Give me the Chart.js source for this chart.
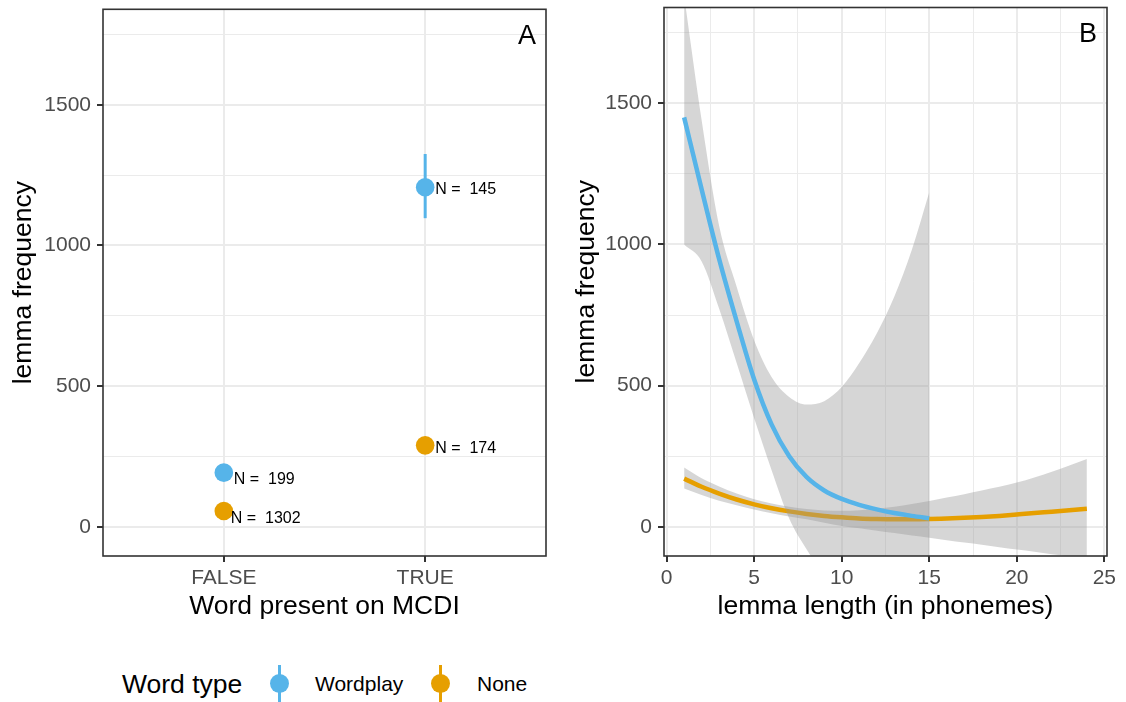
<!DOCTYPE html>
<html>
<head>
<meta charset="utf-8">
<title>Lemma frequency by MCDI presence and lemma length</title>
<script src="https://cdn.jsdelivr.net/npm/chart.js@4/dist/chart.umd.min.js"></script>
<style>
  html, body { margin: 0; padding: 0; background: #ffffff; }
  #fig { position: relative; width: 1126px; height: 702px; overflow: hidden;
         font-family: "Liberation Sans", Arial, Helvetica, sans-serif; }
  #fig canvas { position: absolute; top: 0; }
  #chartA { left: 0; }
  #chartB { left: 560px; }
  .lg-title { position: absolute; font-size: 26.5px; line-height: 30px; color: #000; white-space: nowrap; }
  .lg-label { position: absolute; font-size: 21px; line-height: 24px; color: #000; white-space: nowrap; }
  .lg-key { position: absolute; width: 20px; height: 37px; }
  .lg-key .bar { position: absolute; left: 8.5px; top: 0; width: 3px; height: 100%; }
  .lg-key .dot { position: absolute; left: 0.5px; top: 9px; width: 19px; height: 19px; border-radius: 50%; }
</style>
</head>
<body>
<div id="fig">
  <canvas id="chartA" width="560" height="640"></canvas>
  <canvas id="chartB" width="566" height="640"></canvas>
  <div class="lg-title" style="left:122px; top:669px;">Word type</div>
  <div class="lg-key" style="left:269px; top:665px;"><div class="bar" style="background:#56B4E9"></div><div class="dot" style="background:#56B4E9"></div></div>
  <div class="lg-label" style="left:315px; top:672px;">Wordplay</div>
  <div class="lg-key" style="left:430px; top:665px;"><div class="bar" style="background:#E69F00"></div><div class="dot" style="background:#E69F00"></div></div>
  <div class="lg-label" style="left:477px; top:672px;">None</div>
</div>
<script>
// ---- Panel A: mean lemma frequency by MCDI presence ----
const mcdiCategories = ['FALSE', 'TRUE'];
const wordplayMean = [193, 1207];
const wordplayLow  = [180, 1097];
const wordplayHigh = [207, 1325];
const wordplayCount = [199, 145];
const noneMean = [57, 290];
const noneLow  = [49, 271];
const noneHigh = [65, 309];
const noneCount = [1302, 174];

// ---- Panel B: smoothed lemma frequency by lemma length ----
const wordplayLength = [1, 2, 3, 4, 5, 6, 7, 8, 9, 10, 11, 12, 13, 14, 15];
const wordplayFit   = [1450, 1195, 948, 728, 522, 362, 250, 176, 129, 99, 78, 62, 49, 39, 31];
const wordplayUpper = [1880, 1440, 1065, 850, 660, 530, 460, 433, 445, 495, 580, 685, 815, 980, 1185];
const wordplayLower = [1000, 940, 772, 580, 385, 200, 30, -80, -170, -240, -290, -320, -340, -350, -355];

const noneLength = [1, 2, 3, 4, 5, 6, 7, 8, 9, 10, 11, 12, 13, 14, 15, 16, 17, 18, 19, 20, 21, 22, 23, 24];
const noneFit   = [171, 142, 118, 97, 80, 66, 55, 46, 39, 34, 30, 28, 27, 27, 28, 30, 32, 35, 39, 44, 49, 54, 59, 64];
const noneUpper = [210, 172, 143, 118, 98, 83, 71, 63, 58, 57, 59, 64, 71, 81, 92, 104, 116, 129, 142, 157, 175, 195, 217, 240];
const noneLower = [136, 113, 93, 77, 62, 48, 37, 27, 15, 3, -5, -14, -22, -30, -38, -47, -55, -63, -72, -80, -88, -97, -105, -113];

// ---- Axis ticks ----
const freqTicks = [0, 250, 500, 750, 1000, 1250, 1500, 1750];
const lengthTicks = [0, 2.5, 5, 7.5, 10, 12.5, 15, 17.5, 20, 22.5, 25];

const FONT = '"Liberation Sans", Arial, Helvetica, sans-serif';
const BLUE = '#56B4E9';
const ORANGE = '#E69F00';
const GRID = '#EBEBEB';
const INK = '#333333';
const RIBBON = 'rgba(153,153,153,0.4)';

Chart.defaults.font.family = FONT;

function gridStyle(isMajor) {
  return {
    color: GRID,
    lineWidth: c => (c.tick && isMajor(c.tick.value)) ? 2 : 1,
    drawTicks: true,
    tickLength: 6,
    tickWidth: 2,
    tickColor: c => (c.tick && isMajor(c.tick.value)) ? INK : 'rgba(0,0,0,0)'
  };
}

// Axes keep a fixed thickness and do not push the plot area for their end labels
function fixVertical(width) {
  return s => { s.width = width; s.paddingTop = 0; s.paddingBottom = 0; };
}
function fixHorizontal(height) {
  return s => { s.height = height; s.paddingLeft = 0; s.paddingRight = 0; };
}

function freqAxis(axisWidth, titleGap) {
  const major = v => v % 500 === 0;
  return {
    type: 'linear',
    min: -103,
    max: 1839,
    afterBuildTicks: s => { s.ticks = freqTicks.map(v => ({ value: v })); },
    afterFit: fixVertical(axisWidth),
    border: { display: false },
    grid: gridStyle(major),
    ticks: {
      autoSkip: false,
      padding: 6,
      color: '#4D4D4D',
      font: { size: 21 },
      callback: v => major(v) ? String(v) : ''
    },
    title: {
      display: true,
      text: 'lemma frequency',
      color: '#000000',
      font: { size: 26.5 },
      padding: { top: titleGap, bottom: 0 }
    }
  };
}

// Full panel frame plus the panel tag in the top-right corner
const panelFrame = {
  id: 'panelFrame',
  afterDraw(chart, args, opts) {
    const { ctx, chartArea: a } = chart;
    ctx.save();
    ctx.strokeStyle = INK;
    ctx.lineWidth = 1.6;
    ctx.strokeRect(a.left, a.top, a.right - a.left, a.bottom - a.top);
    ctx.fillStyle = '#000000';
    ctx.font = '27px ' + FONT;
    ctx.textAlign = 'center';
    ctx.textBaseline = 'middle';
    ctx.fillText(opts.tag, a.right - 19, a.top + 27);
    ctx.restore();
  }
};

// Vertical ranges behind the points of panel A
const rangeBars = {
  id: 'rangeBars',
  beforeDatasetsDraw(chart) {
    const { ctx, scales: { x, y } } = chart;
    ctx.save();
    ctx.lineWidth = 3;
    ctx.lineCap = 'butt';
    chart.data.datasets.forEach(ds => {
      ctx.strokeStyle = ds.backgroundColor;
      ds.data.forEach((p, i) => {
        const px = x.getPixelForValue(p.x);
        ctx.beginPath();
        ctx.moveTo(px, y.getPixelForValue(ds.rangeLow[i]));
        ctx.lineTo(px, y.getPixelForValue(ds.rangeHigh[i]));
        ctx.stroke();
      });
    });
    ctx.restore();
  }
};

// "N = ..." counts beside each point of panel A
const countLabels = {
  id: 'countLabels',
  afterDatasetsDraw(chart) {
    const { ctx, scales: { x, y } } = chart;
    ctx.save();
    ctx.fillStyle = '#000000';
    ctx.font = '16px ' + FONT;
    ctx.textAlign = 'left';
    ctx.textBaseline = 'middle';
    chart.data.datasets.forEach(ds => {
      ds.data.forEach((p, i) => {
        const [dx, dy] = ds.labelNudge[i];
        ctx.fillText('N =  ' + ds.counts[i], x.getPixelForValue(p.x) + dx, y.getPixelForValue(p.y) + dy);
      });
    });
    ctx.restore();
  }
};

new Chart(document.getElementById('chartA'), {
  type: 'scatter',
  data: {
    datasets: [
      {
        label: 'Wordplay',
        data: mcdiCategories.map((c, i) => ({ x: i + 1, y: wordplayMean[i] })),
        rangeLow: wordplayLow,
        rangeHigh: wordplayHigh,
        counts: wordplayCount,
        labelNudge: [[10, 7], [10, 2]],
        backgroundColor: BLUE,
        borderWidth: 0,
        pointRadius: 9.3,
        pointHoverRadius: 9.3
      },
      {
        label: 'None',
        data: mcdiCategories.map((c, i) => ({ x: i + 1, y: noneMean[i] })),
        rangeLow: noneLow,
        rangeHigh: noneHigh,
        counts: noneCount,
        labelNudge: [[7, 8], [10, 3]],
        backgroundColor: ORANGE,
        borderWidth: 0,
        pointRadius: 9.3,
        pointHoverRadius: 9.3
      }
    ]
  },
  options: {
    responsive: false,
    animation: false,
    devicePixelRatio: 1,
    layout: { padding: { left: 0, right: 14, top: 7.5, bottom: 0 } },
    plugins: {
      legend: { display: false },
      tooltip: { enabled: false },
      panelFrame: { tag: 'A' }
    },
    scales: {
      x: {
        type: 'linear',
        min: 0.4,
        max: 2.6,
        afterBuildTicks: s => { s.ticks = mcdiCategories.map((c, i) => ({ value: i + 1 })); },
        afterFit: fixHorizontal(84),
        border: { display: false },
        grid: gridStyle(() => true),
        ticks: {
          autoSkip: false,
          maxRotation: 0,
          padding: 4,
          color: '#4D4D4D',
          font: { size: 21 },
          callback: v => mcdiCategories[v - 1] || ''
        },
        title: {
          display: true,
          text: 'Word present on MCDI',
          color: '#000000',
          font: { size: 26.5 },
          padding: { top: 0, bottom: 17 }
        }
      },
      y: freqAxis(103, 7.5)
    }
  },
  plugins: [rangeBars, countLabels, panelFrame]
});

const toPoints = (xs, ys) => xs.map((v, i) => ({ x: v, y: ys[i] }));
const edge = { borderWidth: 0, pointRadius: 0, pointHoverRadius: 0, cubicInterpolationMode: 'monotone' };
const fitLine = { borderWidth: 4.5, pointRadius: 0, pointHoverRadius: 0, cubicInterpolationMode: 'monotone', fill: false };

new Chart(document.getElementById('chartB'), {
  type: 'line',
  data: {
    datasets: [
      Object.assign({ label: 'Wordplay', data: toPoints(wordplayLength, wordplayFit), order: 0,
        borderColor: BLUE }, fitLine),
      Object.assign({ label: 'Wordplay upper', data: toPoints(wordplayLength, wordplayUpper), order: 1,
        fill: { target: 2 }, backgroundColor: RIBBON }, edge),
      Object.assign({ label: 'Wordplay lower', data: toPoints(wordplayLength, wordplayLower), order: 1,
        fill: false }, edge),
      Object.assign({ label: 'None', data: toPoints(noneLength, noneFit), order: 2,
        borderColor: ORANGE }, fitLine),
      Object.assign({ label: 'None upper', data: toPoints(noneLength, noneUpper), order: 3,
        fill: { target: 5 }, backgroundColor: RIBBON }, edge),
      Object.assign({ label: 'None lower', data: toPoints(noneLength, noneLower), order: 3,
        fill: false }, edge)
    ]
  },
  options: {
    responsive: false,
    animation: false,
    devicePixelRatio: 1,
    layout: { padding: { left: 0, right: 19, top: 7.5, bottom: 0 } },
    plugins: {
      legend: { display: false },
      tooltip: { enabled: false },
      filler: { propagate: false },
      panelFrame: { tag: 'B' }
    },
    scales: {
      x: {
        type: 'linear',
        min: -0.15,
        max: 25.15,
        afterBuildTicks: s => { s.ticks = lengthTicks.map(v => ({ value: v })); },
        afterFit: fixHorizontal(84),
        border: { display: false },
        grid: gridStyle(v => v % 5 === 0),
        ticks: {
          autoSkip: false,
          maxRotation: 0,
          padding: 4,
          color: '#4D4D4D',
          font: { size: 21 },
          callback: v => v % 5 === 0 ? String(v) : ''
        },
        title: {
          display: true,
          text: 'lemma length (in phonemes)',
          color: '#000000',
          font: { size: 26.5 },
          padding: { top: 0, bottom: 17 }
        }
      },
      y: freqAxis(104, 10.5)
    }
  },
  plugins: [panelFrame]
});
</script>
</body>
</html>
